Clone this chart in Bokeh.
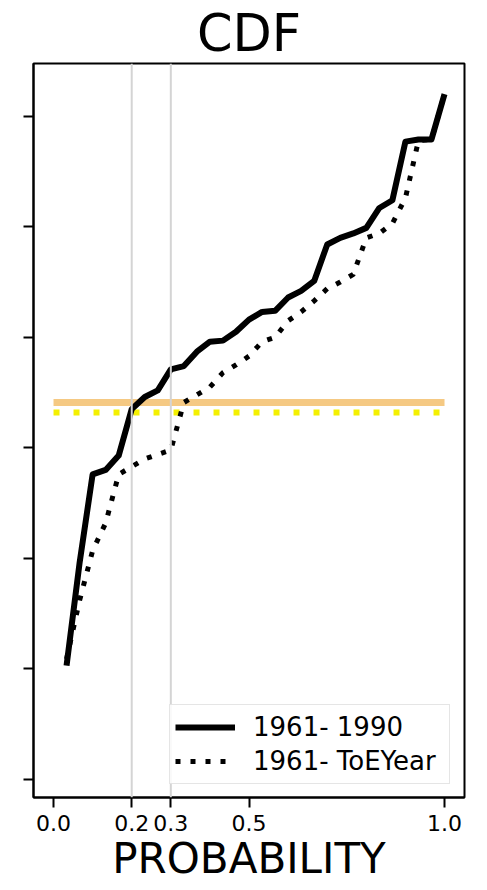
from bokeh.plotting import figure
from bokeh.models import Range1d, FixedTicker, Span, Legend, LegendItem
from bokeh.embed import file_html
from bokeh.resources import INLINE

# ---- data ----
n_points = 30
probability = [i / n_points for i in range(1, n_points + 1)]

series_1961_1990 = [1.03, 1.96, 2.76, 2.80, 2.93, 3.35, 3.46, 3.52, 3.71, 3.74,
                    3.87, 3.96, 3.97, 4.05, 4.16, 4.23, 4.24, 4.36, 4.42, 4.51,
                    4.84, 4.90, 4.94, 4.99, 5.17, 5.24, 5.77, 5.79, 5.79, 6.20]
series_1961_toe = [1.09, 1.62, 2.07, 2.32, 2.76, 2.83, 2.90, 2.94, 2.98, 3.41,
                   3.48, 3.55, 3.68, 3.75, 3.83, 3.96, 4.00, 4.15, 4.23, 4.33,
                   4.44, 4.50, 4.57, 4.90, 4.94, 5.03, 5.26, 5.78, 5.79, 6.20]

ref_level_1990 = 3.41
ref_level_toe = 3.32
prob_marks = [0.2, 0.3]

x_ticks = [0.0, 0.2, 0.3, 0.5, 1.0]
x_tick_labels = ["0.0", "0.2", "0.3", "0.5", "1.0"]
y_ticks = [0, 1, 2, 3, 4, 5, 6]

labels = ["1961- 1990", "1961- ToEYear"]
title_text = "CDF"
x_label = "PROBABILITY"

FONT = "DejaVu Sans"

p = figure(width=487, height=890, output_backend="svg", toolbar_location=None,
           x_range=Range1d(-0.0512, 1.0511), y_range=Range1d(-0.163, 6.477),
           min_border_left=33, min_border_right=23, min_border_top=62,
           min_border_bottom=93)

p.title.text = title_text
p.title.text_font = FONT
p.title.text_font_size = "51px"
p.title.text_font_style = "normal"
p.title.text_color = "black"
p.title.align = "center"
p.title.standoff = 2

p.xgrid.visible = False
p.ygrid.visible = False
p.outline_line_color = "black"
p.outline_line_width = 2
p.background_fill_color = "white"
p.border_fill_color = "white"

for ax in (p.xaxis[0], p.yaxis[0]):
    ax.axis_line_color = "black"
    ax.axis_line_width = 2
    ax.major_tick_line_color = "black"
    ax.major_tick_line_width = 2
    ax.major_tick_in = 0
    ax.major_tick_out = 10
    ax.minor_tick_line_color = None

p.xaxis.ticker = FixedTicker(ticks=x_ticks)
p.xaxis.major_label_overrides = {t: l for t, l in zip(x_ticks, x_tick_labels)}
p.xaxis.major_label_text_font = FONT
p.xaxis.major_label_text_font_size = "22px"
p.xaxis.major_label_text_color = "black"
p.xaxis.major_label_standoff = 7
p.xaxis.axis_label = x_label
p.xaxis.axis_label_text_font = FONT
p.xaxis.axis_label_text_font_size = "42px"
p.xaxis.axis_label_text_font_style = "normal"
p.xaxis.axis_label_text_color = "black"
p.xaxis.axis_label_standoff = 0

p.yaxis.ticker = FixedTicker(ticks=y_ticks)
p.yaxis.major_label_overrides = {t: "" for t in y_ticks}

for xm in prob_marks:
    p.add_layout(Span(location=xm, dimension="height", line_color="#d4d4d4",
                      line_width=2))

p.line([0, 1], [ref_level_1990, ref_level_1990], line_color="#F5C983",
       line_width=7)
p.line([0, 1], [ref_level_toe, ref_level_toe], line_color="#F4F000",
       line_width=6, line_dash="6 14")

r1 = p.line(probability, series_1961_1990, line_color="black", line_width=6,
            line_join="round")
r2 = p.line(probability, series_1961_toe, line_color="black", line_width=5,
            line_dash="5 10")

legend = Legend(items=[LegendItem(label=labels[0], renderers=[r1]),
                       LegendItem(label=labels[1], renderers=[r2])],
                location=(136, 13))
legend.label_text_font = FONT
legend.label_text_font_size = "26px"
legend.label_text_color = "black"
legend.glyph_width = 60
legend.glyph_height = 34
legend.label_height = 34
legend.label_width = 191
legend.label_standoff = 18
legend.padding = 5
legend.spacing = 0
legend.margin = 0
legend.border_line_color = "#cccccc"
legend.border_line_width = 1.5
legend.background_fill_color = "white"
legend.background_fill_alpha = 0.85
p.add_layout(legend, "center")

open("out.html", "w").write(file_html(p, INLINE))
